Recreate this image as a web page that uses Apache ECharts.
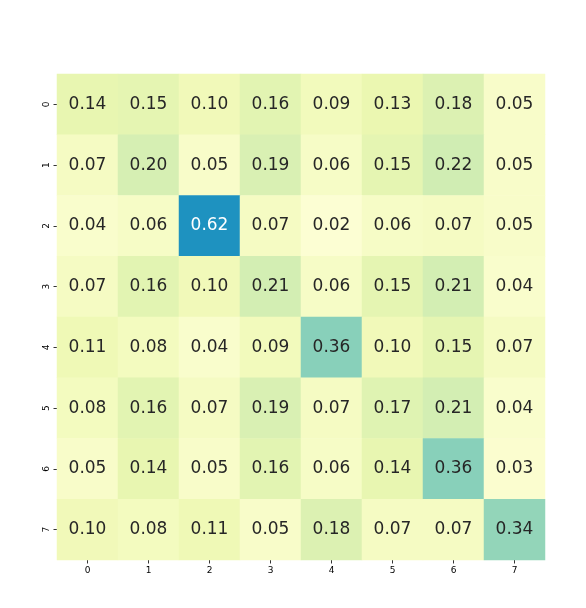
<!DOCTYPE html>
<html>
<head>
<meta charset="utf-8">
<script src="https://cdn.jsdelivr.net/npm/echarts@6/dist/echarts.min.js"></script>
<style>
  html, body { margin: 0; padding: 0; background: #fff; }
  #chart { width: 586px; height: 608px; }
</style>
</head>
<body>
<div id="chart"></div>
<script>
const xLabels = ['0', '1', '2', '3', '4', '5', '6', '7'];
const yLabels = ['0', '1', '2', '3', '4', '5', '6', '7'];

// rows top to bottom
const row0 = [0.14, 0.15, 0.10, 0.16, 0.09, 0.13, 0.18, 0.05];
const row1 = [0.07, 0.20, 0.05, 0.19, 0.06, 0.15, 0.22, 0.05];
const row2 = [0.04, 0.06, 0.62, 0.07, 0.02, 0.06, 0.07, 0.05];
const row3 = [0.07, 0.16, 0.10, 0.21, 0.06, 0.15, 0.21, 0.04];
const row4 = [0.11, 0.08, 0.04, 0.09, 0.36, 0.10, 0.15, 0.07];
const row5 = [0.08, 0.16, 0.07, 0.19, 0.07, 0.17, 0.21, 0.04];
const row6 = [0.05, 0.14, 0.05, 0.16, 0.06, 0.14, 0.36, 0.03];
const row7 = [0.10, 0.08, 0.11, 0.05, 0.18, 0.07, 0.07, 0.34];
const rows = [row0, row1, row2, row3, row4, row5, row6, row7];

const ylgnbu = ['#ffffd9', '#edf8b1', '#c7e9b4', '#7fcdbb', '#41b6c4',
                '#1d91c0', '#225ea8', '#253494', '#081d58'];

const cells = [];
rows.forEach((row, r) => {
  row.forEach((v, c) => {
    cells.push({
      value: [c, r, v],
      label: { color: v > 0.5 ? '#ffffff' : '#262626' }
    });
  });
});

const chart = echarts.init(document.getElementById('chart'));

const axisCommon = {
  type: 'category',
  axisLine: { show: false },
  axisTick: { show: true, length: 3.5, lineStyle: { color: '#000', width: 0.8 }, alignWithLabel: true },
  axisLabel: { color: '#000', fontSize: 9, fontFamily: 'DejaVu Sans' },
  splitArea: { show: false }
};

chart.setOption({
  animation: false,
  grid: { left: 57, top: 74, width: 488, height: 486 },
  xAxis: Object.assign({}, axisCommon, {
    data: xLabels,
    axisLabel: Object.assign({}, axisCommon.axisLabel, { margin: 6 })
  }),
  yAxis: Object.assign({}, axisCommon, {
    data: yLabels,
    inverse: true,
    axisLabel: Object.assign({}, axisCommon.axisLabel, { rotate: 90, margin: 6 })
  }),
  visualMap: {
    show: false,
    min: 0,
    max: 1,
    dimension: 2,
    inRange: { color: ylgnbu }
  },
  series: [{
    type: 'heatmap',
    data: cells,
    label: {
      show: true,
      fontSize: 17,
      fontFamily: 'DejaVu Sans',
      formatter: p => p.value[2].toFixed(2)
    },
    itemStyle: { borderWidth: 0 }
  }]
});
</script>
</body>
</html>
